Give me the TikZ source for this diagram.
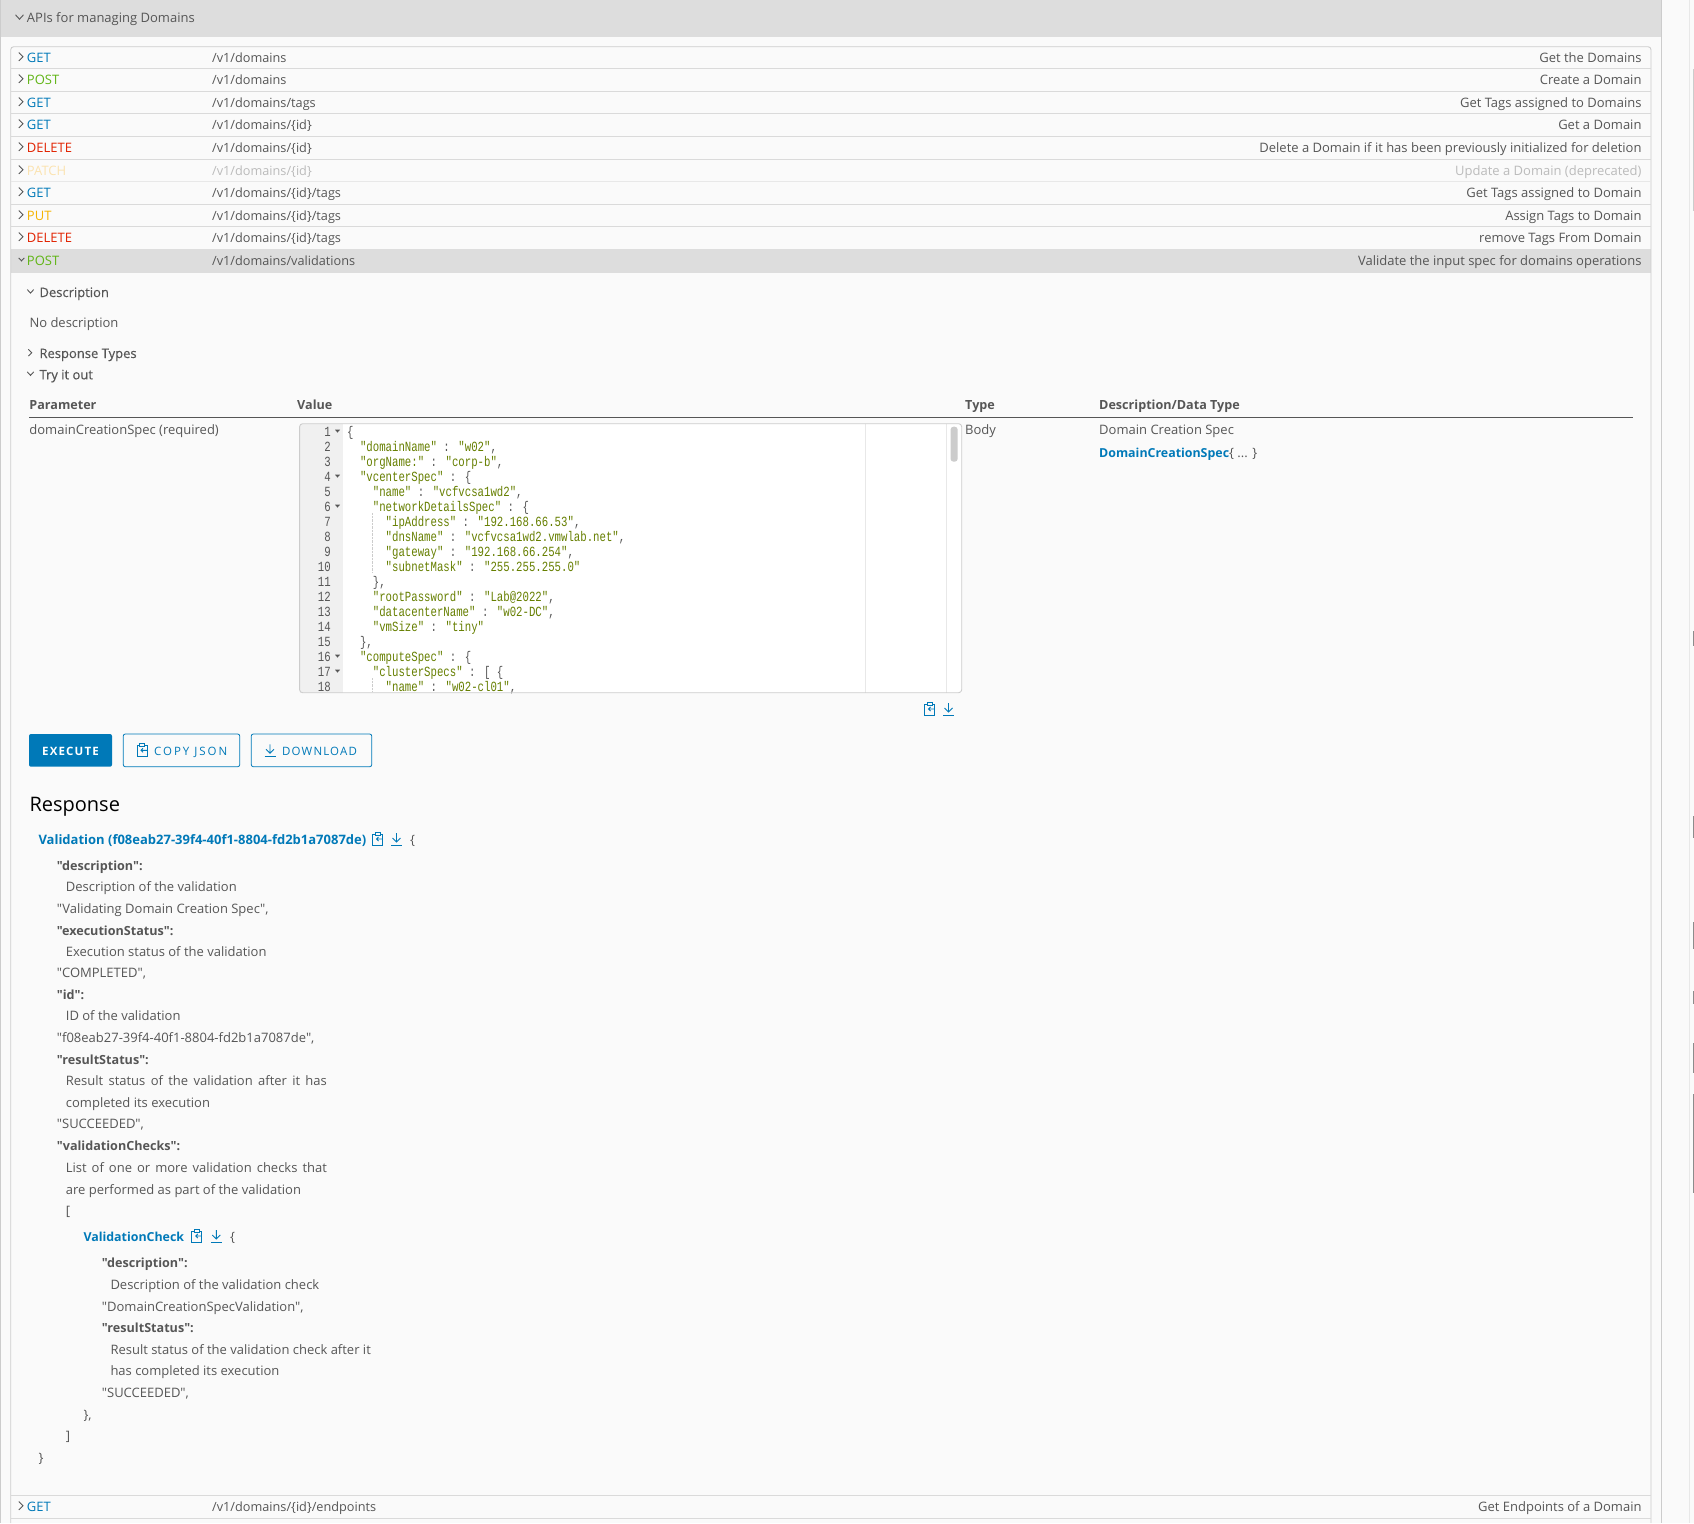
\documentclass[tikz,border=0pt]{standalone}
\usepackage{fontspec}
\setmainfont{Open Sans}[Ligatures=TeXOff]
\newfontfamily\codefont[FakeStretch=0.764]{Liberation Mono}
\newfontfamily\midfont[FakeBold=0.4]{Open Sans}
\newfontfamily\btnfont[LetterSpace=10]{Open Sans}
\newfontfamily\btnwide[LetterSpace=17]{Open Sans}
\definecolor{pagebg}{HTML}{FAFAFA}
\definecolor{bandgray}{HTML}{DDDDDD}
\definecolor{linegray}{HTML}{CCCCCC}
\definecolor{rowline}{HTML}{DADADA}
\definecolor{txtgray}{HTML}{565656}
\definecolor{paleline}{HTML}{E8E8E8}
\definecolor{getblue}{HTML}{0079B8}
\definecolor{postgreen}{HTML}{60B515}
\definecolor{delred}{HTML}{E12200}
\definecolor{putyellow}{HTML}{F5B400}
\definecolor{patchpale}{HTML}{FBE3B0}
\definecolor{fadegray}{HTML}{BBBBBB}
\definecolor{codestr}{HTML}{667F00}
\newcommand{\cs}[1]{\textcolor{codestr}{#1}}
\tikzset{
  base/.style={inner sep=0pt,text height=13pt,text depth=2.4pt},
  txt/.style={base,anchor=west,text=txtgray,font=\fontsize{13}{16}\selectfont},
  pathtxt/.style={txt,font=\fontsize{12.7}{16}\selectfont},
  midtxt/.style={txt,font=\fontsize{13}{16}\midfont},
  boldtxt/.style={txt,font=\fontsize{12.6}{16}\selectfont\bfseries},
  linktxt/.style={txt,text=getblue,font=\fontsize{13}{16}\selectfont\bfseries},
  codetxt/.style={base,anchor=west,text=txtgray,font=\fontsize{14}{16}\codefont},
  numtxt/.style={codetxt,anchor=east},
  btntxt/.style={base,font=\fontsize{11.5}{14}\btnfont},
  iconline/.style={draw=getblue,line width=.9pt},
  chevline/.style={draw=txtgray,line width=.9pt},
  chevright/.pic={\draw[chevline] (-2,-4.2) -- (2.2,0) -- (-2,4.2);},
  chevdown/.pic={\draw[chevline] (-4,-2.4) -- (0,2) -- (4,-2.4);},
  clipicon/.pic={
    \draw[iconline] (-2.5,-5) -- (-5,-5) -- (-5,6) -- (5,6) -- (5,-5) -- (2.5,-5);
    \draw[iconline] (-2.5,-6.5) rectangle (2.5,-3.5);
    \draw[iconline] (5,0) -- (-1,0) (1,-2) -- (-1,0) -- (1,2);
  },
  dlicon/.pic={
    \draw[iconline] (0,-6) -- (0,3) (-4,-1) -- (0,3) -- (4,-1);
    \draw[iconline] (-5.5,6) -- (5.5,6);
  },
  foldmark/.pic={\fill[txtgray] (-2.5,-1.3) -- (2.5,-1.3) -- (0,1.6) -- cycle;}
}
\begin{document}
\begin{tikzpicture}[x=1pt,y=-1pt]
\useasboundingbox[fill=pagebg] (0,0) rectangle (1694,1523);
% bands and frame
\fill[bandgray] (1,0) rectangle (1661,36.7);
\fill[bandgray] (10.7,249) rectangle (1651,273);
\draw[linegray] (.5,0) -- (.5,1523);
\draw[linegray,line width=1.2pt] (1661.7,0) -- (1661.7,1523);
\draw[paleline,line width=.8pt] (1689.5,0) -- (1689.5,1523);
\draw[linegray,line width=.9pt,rounded corners=3] (10.7,1523) -- (10.7,46.7) -- (1651,46.7) -- (1651,1523);
\foreach \y/\c in {68.3/rowline,91/rowline,113.3/rowline,136/rowline,159/rowline,181.3/paleline,204/rowline,226.3/rowline,1495.3/rowline,1518.3/rowline}
\draw[\c,line width=.8pt] (11,\y) -- (1650.6,\y);
% scroll marks
\draw[linegray,line width=1.4pt] (1693.4,69) -- (1693.4,211);
\foreach \a/\b in {631/646,816/838,922/949,991/1004,1043/1073,1094/1193}
\draw[black!45,line width=1.4pt] (1693.4,\a) -- (1693.4,\b);
% header
\pic at (19.5,17.2) {chevdown};
\node[txt] (head) at (26.8,16.7) {APIs for managing Domains};
% endpoint rows
\foreach \y/\m/\c/\p/\d/\t [count=\k] in {
56.7/GET/getblue/{/v1/domains}/Get the Domains/txtgray,
78.7/POST/postgreen/{/v1/domains}/Create a Domain/txtgray,
101.7/GET/getblue/{/v1/domains/tags}/Get Tags assigned to Domains/txtgray,
123.7/GET/getblue/{/v1/domains/\{id\}}/Get a Domain/txtgray,
146.7/DELETE/delred/{/v1/domains/\{id\}}/Delete a Domain if it has been previously initialized for deletion/txtgray,
169.7/PATCH/patchpale/{/v1/domains/\{id\}}/Update a Domain (deprecated)/fadegray,
191.7/GET/getblue/{/v1/domains/\{id\}/tags}/Get Tags assigned to Domain/txtgray,
214.7/PUT/putyellow/{/v1/domains/\{id\}/tags}/Assign Tags to Domain/txtgray,
236.7/DELETE/delred/{/v1/domains/\{id\}/tags}/remove Tags From Domain/txtgray,
1505.7/GET/getblue/{/v1/domains/\{id\}/endpoints}/Get Endpoints of a Domain/txtgray}
{
\pic[\t] at (20.8,\y) {chevright};
\node[txt,text=\c] (meth\k) at (26.8,\y) {\m};
\node[pathtxt,text=\t] (path\k) at (212,\y) {\p};
\node[txt,text=\t,anchor=east] (desc\k) at (1641.7,\y) {\d};
}
% open row
\pic[scale=.7] at (21.5,259.5) {chevdown};
\node[txt,text=postgreen] (methopen) at (26.8,259.7) {POST};
\node[pathtxt] (pathopen) at (212,259.7) {/v1/domains/validations};
\node[txt,anchor=east] (descopen) at (1641.7,259.7) {Validate the input spec for domains operations};
% sections
\pic[scale=.8] at (30.5,291.5) {chevdown};
\node[midtxt] (secdesc) at (39.3,291.7) {Description};
\node[txt] (nodesc) at (29.3,321.7) {No description};
\pic[scale=.8] at (30,352.7) {chevright};
\node[midtxt] (sectypes) at (39.3,352.7) {Response Types};
\pic[scale=.8] at (30.5,373.8) {chevdown};
\node[midtxt] (sectry) at (39.3,374) {Try it out};
% parameter table
\node[boldtxt] (hparam) at (29.2,404.6) {Parameter};
\node[boldtxt] (hvalue) at (297,404.6) {Value};
\node[boldtxt] (htype) at (965,404.6) {Type};
\node[boldtxt] (hdata) at (1099,404.6) {Description/Data Type};
\draw[txtgray] (29,417.3) -- (1633,417.3);
\node[txt] (pname) at (29.2,429.4) {domainCreationSpec (required)};
\node[txt] (ptype) at (965,429.4) {Body};
\node[txt] (pdesc) at (1099,429.4) {Domain Creation Spec};
\node[txt] (plink) at (1099,451.8) {\textcolor{getblue}{\fontsize{12.4}{16}\selectfont\bfseries DomainCreationSpec}\{ ... \}};
% editor
\fill[white] (299.6,423.7) rectangle (961.7,692.7);
\fill[black!6] (299.6,423.7) rectangle (343,692.7);
\draw[paleline] (865,423.7) -- (865,692.7);
\draw[paleline] (946.5,423.7) -- (946.5,692.7);
\fill[linegray,rounded corners=3] (950.5,426.7) rectangle (957.7,461.7);
\draw[linegray,densely dotted] (372.6,513) -- (372.6,573);
\draw[linegray,densely dotted] (372.6,678) -- (372.6,692);
\foreach \n/\ind/\code [count=\k] in {
1/0/\{,
2/2/{\cs{"domainName"} : \cs{"w02"},},
3/2/{\cs{"orgName:"} : \cs{"corp-b"},},
4/2/{\cs{"vcenterSpec"} : \{},
5/4/{\cs{"name"} : \cs{"vcfvcsa1wd2"},},
6/4/{\cs{"networkDetailsSpec"} : \{},
7/6/{\cs{"ipAddress"} : \cs{"192.168.66.53"},},
8/6/{\cs{"dnsName"} : \cs{"vcfvcsa1wd2.vmwlab.net"},},
9/6/{\cs{"gateway"} : \cs{"192.168.66.254"},},
10/6/{\cs{"subnetMask"} : \cs{"255.255.255.0"}},
11/4/{\},},
12/4/{\cs{"rootPassword"} : \cs{"Lab@2022"},},
13/4/{\cs{"datacenterName"} : \cs{"w02-DC"},},
14/4/{\cs{"vmSize"} : \cs{"tiny"}},
15/2/{\},},
16/2/{\cs{"computeSpec"} : \{},
17/4/{\cs{"clusterSpecs"} : [ \{},
18/6/{\cs{"name"} : \cs{"w02-cl01"},}}
{
\node[numtxt] (num\n) at (331,{431+15*(\n-1)}) {\n};
\node[codetxt] (code\n) at ({347+6.42*\ind},{431+15*(\n-1)}) {\code};
}
\foreach \n in {1,4,6,16,17}
\pic at (337.5,{431+15*(\n-1)}) {foldmark};
\draw[linegray,line width=.9pt,rounded corners=3] (299.6,423.7) rectangle (961.7,692.7);
\pic at (929.5,709) {clipicon};
\pic at (948.5,709) {dlicon};
% buttons
\fill[getblue,rounded corners=2] (29,734) rectangle (112,766.7);
\node[btntxt,text=white,font=\fontsize{11.5}{14}\btnfont\bfseries] (btnexec) at (70.5,750.3) {EXECUTE};
\draw[getblue,line width=.8pt,rounded corners=2] (123.3,734) rectangle (239.7,766.7);
\pic at (142,750.3) {clipicon};
\node[btntxt,text=getblue,anchor=west,font=\fontsize{11.5}{14}\btnwide] (btncopy) at (154,750.3) {COPY JSON};
\draw[getblue,line width=.8pt,rounded corners=2] (251.3,734) rectangle (371.7,766.7);
\pic at (270,750.3) {dlicon};
\node[btntxt,text=getblue,anchor=west] (btndown) at (282,750.3) {DOWNLOAD};
% response
\node[txt,text=black,font=\fontsize{20}{24}\selectfont] (resphead) at (29.3,806) {Response};
\node[linktxt] (resplink) at (38.3,838.7) {Validation (f08eab27-39f4-40f1-8804-fd2b1a7087de)};
\pic at (377.5,839) {clipicon};
\pic at (396.5,839) {dlicon};
\node[txt] (respopen) at (410,838.7) {\{};
\foreach \x/\y/\s/\t [count=\k] in {
56.7/865/boldtxt/{"description":},
65.7/885.7/txt/Description of the validation,
56.7/907.7/txt/{"Validating Domain Creation Spec",},
56.7/930/boldtxt/{"executionStatus":},
65.7/950.7/txt/Execution status of the validation,
56.7/972.4/txt/{"COMPLETED",},
56.7/994/boldtxt/{"id":},
65.7/1015.6/txt/ID of the validation,
56.7/1037/txt/{"f08eab27-39f4-40f1-8804-fd2b1a7087de",},
56.7/1059/boldtxt/{"resultStatus":},
65.7/1080/txt/{\makebox[261pt][s]{Result status of the validation after it has}},
65.7/1102/txt/completed its execution,
56.7/1123.6/txt/{"SUCCEEDED",},
56.7/1145/boldtxt/{"validationChecks":},
65.7/1166.7/txt/{\makebox[261pt][s]{List of one or more validation checks that}},
65.7/1188.7/txt/are performed as part of the validation,
65.7/1210/txt/[,
101.7/1261.7/boldtxt/{"description":},
110.3/1283.7/txt/Description of the validation check,
101.7/1305.7/txt/{"DomainCreationSpecValidation",},
101.7/1326.7/boldtxt/{"resultStatus":},
110.3/1348.7/txt/Result status of the validation check after it,
110.3/1369.7/txt/has completed its execution,
101.7/1391.7/txt/{"SUCCEEDED",},
83.3/1414.3/txt/{\},},
65.7/1435/txt/],
38.3/1457/txt/\}}
{
\node[\s] (resp\k) at (\x,\y) {\t};
}
\node[linktxt,font=\fontsize{12.4}{16}\selectfont\bfseries] (checklink) at (83.3,1235.7) {ValidationCheck};
\pic at (196.8,1236) {clipicon};
\pic at (216.3,1236) {dlicon};
\node[txt] (checkopen) at (230,1235.7) {\{};
\end{tikzpicture}
\end{document}
